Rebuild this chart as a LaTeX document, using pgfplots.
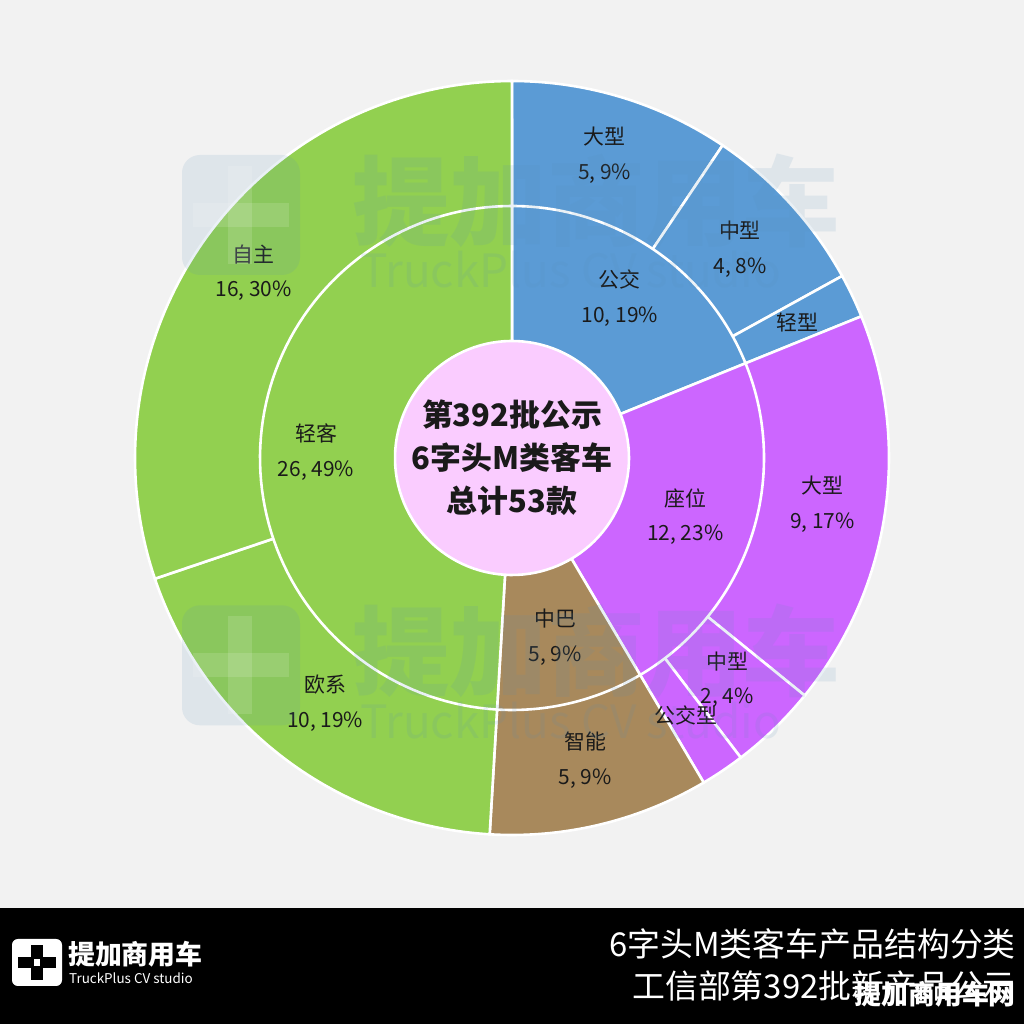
\documentclass[border=0pt]{standalone}
\usepackage{fontspec}
\setmainfont{Noto Sans CJK SC}
\usepackage{pgfplots}
\pgfplotsset{compat=1.18}
\definecolor{bg}{HTML}{F2F2F2}
\definecolor{cblue}{HTML}{5B9BD5}
\definecolor{cpurple}{HTML}{CC66FF}
\definecolor{cbrown}{HTML}{A8895C}
\definecolor{cgreen}{HTML}{92D050}
\definecolor{cpink}{HTML}{FACCFF}
\definecolor{labc}{HTML}{1A1A1A}
\definecolor{wm}{HTML}{5A8FB8}
% total count
\newcommand\total{53}
% \sector{start count}{count}{radius}{colour}
\newcommand\sector[4]{%
  \addplot[fill=#4, draw=white, line width=2.6bp, domain={90-360*(#1+#2)/\total}:{90-360*(#1)/\total}, samples=90]
    ({#3*cos(x)},{#3*sin(x)}) -- (0,0) -- cycle;}
% \lab{radius}{mid count}{text}
\newcommand\lab[3]{%
  \node[align=center, font=\fontsize{21}{35}\selectfont, text=labc, inner sep=0pt]
    at ({#1*cos(90-360*(#2)/\total)},{#1*sin(90-360*(#2)/\total)}) {#3};}
\begin{document}
\begin{tikzpicture}[x=1bp,y=1bp]
\useasboundingbox (0,0) rectangle (1024,1024);
\fill[bg] (0,0) rectangle (1024,1024);
\begin{axis}[at={(0,0)}, anchor=south west, x=1bp, y=1bp,
  xmin=-512, xmax=512, ymin=-566, ymax=458, hide axis, clip=false]
% outer ring (radius 377)
\sector{0}{5}{377}{cblue}
\sector{5}{4}{377}{cblue}
\sector{9}{1}{377}{cblue}
\sector{10}{9}{377}{cpurple}
\sector{19}{2}{377}{cpurple}
\sector{21}{1}{377}{cpurple}
\sector{22}{5}{377}{cbrown}
\sector{27}{10}{377}{cgreen}
\sector{37}{16}{377}{cgreen}
% middle ring (radius 252)
\sector{0}{10}{252}{cblue}
\sector{10}{12}{252}{cpurple}
\sector{22}{5}{252}{cbrown}
\sector{27}{26}{252}{cgreen}
% centre
\addplot[fill=cpink, draw=white, line width=2.6bp, domain=0:360, samples=120] ({117*cos(x)},{117*sin(x)}) -- cycle;
% labels outer
\lab{317}{2.5}{大型\\5, 9\%}
\lab{309}{7}{中型\\4, 8\%}
\lab{316}{9.5}{轻型}
\lab{314}{14.5}{大型\\9, 17\%}
\lab{309}{20}{中型\\2, 4\%}
\lab{311}{21.5}{公交型}
\lab{311}{24.5}{智能\\5, 9\%}
\lab{308}{32}{欧系\\10, 19\%}
\lab{318}{45}{自主\\16, 30\%}
% labels middle
\lab{193}{5}{公交\\10, 19\%}
\lab{183}{16}{座位\\12, 23\%}
\lab{184}{24.5}{中巴\\5, 9\%}
\lab{196}{40}{轻客\\26, 49\%}
\node[align=center, font=\fontsize{31}{43}\selectfont\bfseries, text=labc] at (0,0) {第392批公示\\6字头M类客车\\总计53款};
\end{axis}
% watermarks
\begin{scope}[opacity=0.13]
\foreach \dy in {0,-452} {
  \begin{scope}[yshift=\dy]
  \fill[wm, rounded corners=18] (182,749) rectangle (300,869);
  \fill[white] (228,760) rectangle (252,858);
  \fill[white] (193,797) rectangle (289,821);
  \node[text=wm, font=\fontsize{98}{98}\selectfont\bfseries, anchor=west, inner sep=0pt] at (352,823) {提加商用车};
  \node[text=wm, font=\fontsize{46}{46}\selectfont, anchor=west, inner sep=0pt] at (360,754) {TruckPlus CV studio};
  \end{scope}
}
\end{scope}
% bottom band
\fill[black] (0,0) rectangle (1024,116);
\fill[white, rounded corners=6] (12,38) rectangle (62,85);
\fill[black] (31,44) rectangle (43,79);
\fill[black] (18,56) rectangle (56,67);
\fill[white] (34,58) rectangle (40,65);
\node[text=white, font=\fontsize{27}{27}\selectfont\bfseries, anchor=west, inner sep=0pt] at (68,70) {提加商用车};
\node[text=white, font=\fontsize{13.5}{13.5}\selectfont, anchor=west, inner sep=0pt] at (69,46) {TruckPlus CV studio};
\node[text=white, font=\fontsize{33}{33}\selectfont, anchor=east, inner sep=0pt] at (1016,80) {6字头M类客车产品结构分类};
\node[text=white, font=\fontsize{33}{33}\selectfont, anchor=east, inner sep=0pt] at (1016,38) {工信部第392批新产品公示};
\node[text=white, font=\fontsize{27}{27}\selectfont\bfseries, anchor=east, inner sep=0pt] at (1016,30) {提加商用车网};
\end{tikzpicture}
\end{document}
